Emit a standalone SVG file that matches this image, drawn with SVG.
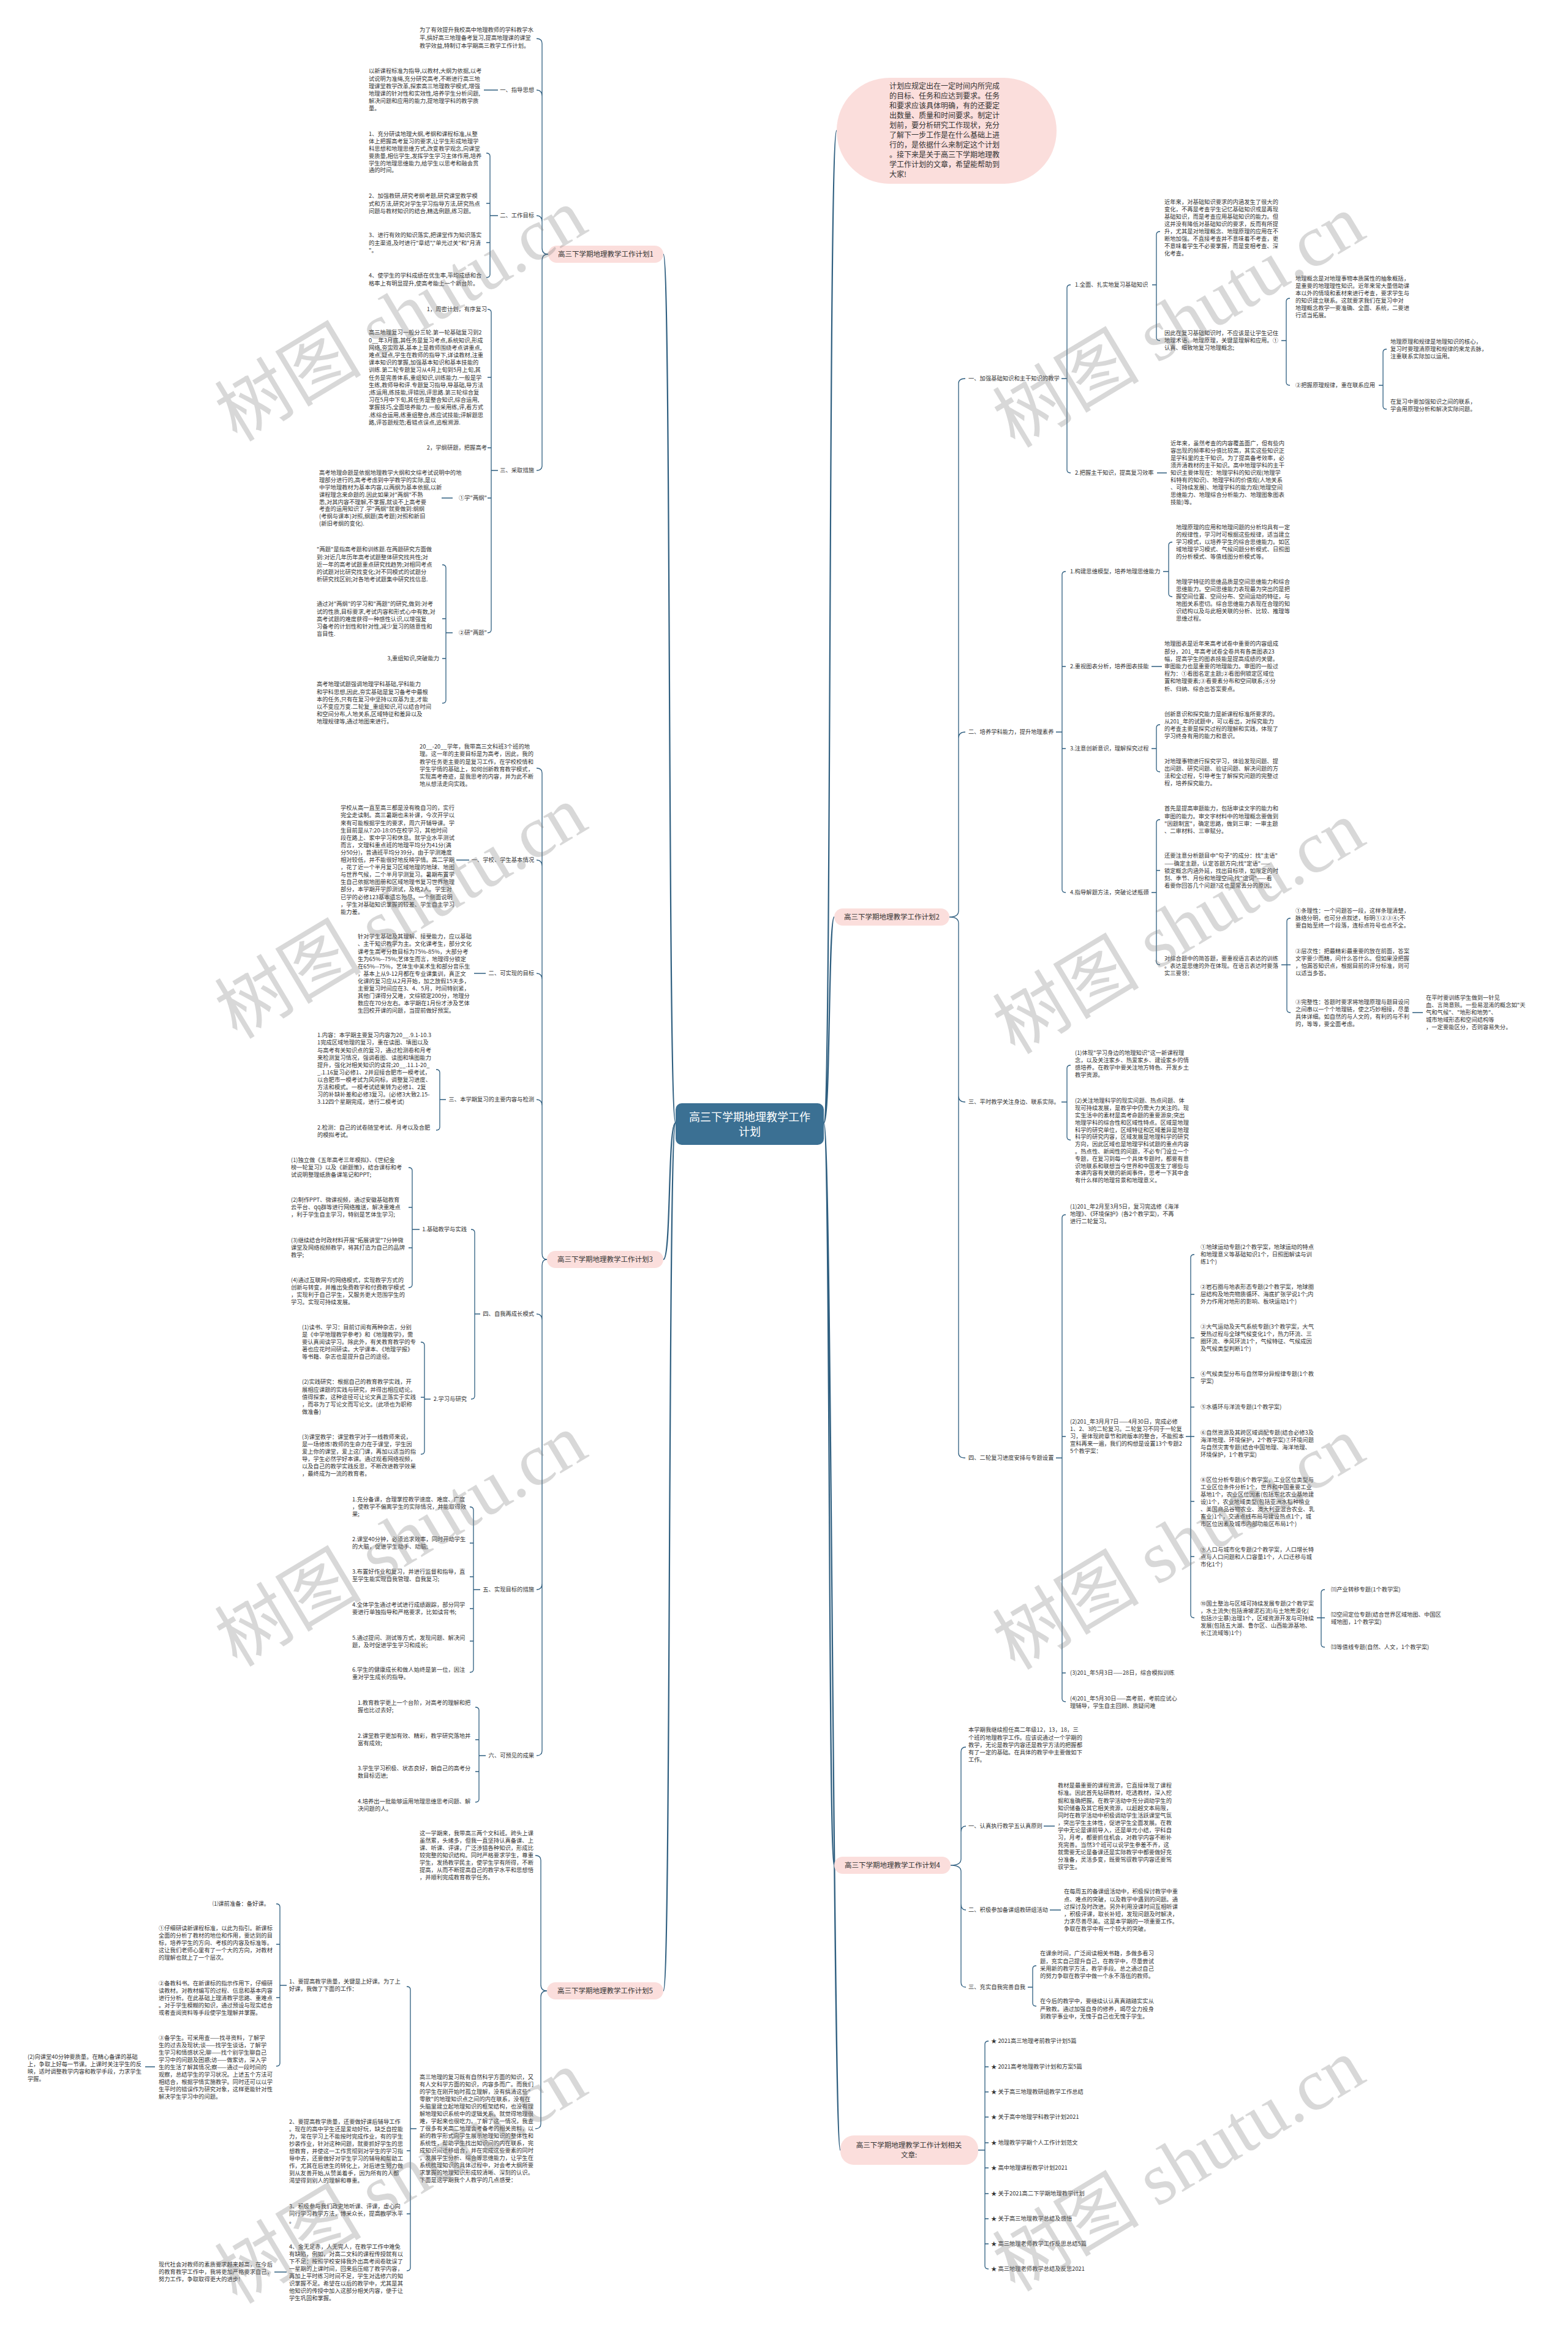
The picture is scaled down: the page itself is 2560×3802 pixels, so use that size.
<svg xmlns="http://www.w3.org/2000/svg" width="2560" height="3802" viewBox="0 0 2560 3802">
<style>
.t{font-family:"Noto Sans CJK SC","Noto Sans",sans-serif;font-size:9.3px;fill:#333}
.e{text-anchor:end}
.c{fill:none;stroke:#2f5f80;stroke-width:1.3}
.m{fill:none;stroke:#2f5f80;stroke-width:2.2}
.pill{fill:#fbdedc}
.pt{font-family:"Noto Sans CJK SC",sans-serif;font-size:11.5px;fill:#333;text-anchor:middle}
.wm{font-size:120px;fill:#808080;opacity:0.3;text-anchor:middle}
</style>
<rect width="2560" height="3802" fill="#fff"/>
<g id="connectors">
<path class="m" d="M1103 1833C1090 1833 1096 415 1083 415M1103 1833C1090 1833 1096 2056 1083 2056M1103 1833C1090 1833 1096 3250 1083 3250M1345 1833C1358 1833 1352 213 1366 213M1345 1833C1356 1833 1352 1497 1362 1497M1345 1833C1356 1833 1352 3045 1362 3045M1345 1833C1358 1833 1360 3510 1372 3510"/>
<path class="c" d="M895 415Q885 415 885 405V71Q885 63 876 63M885 157Q885 147 876 147M885 362Q885 352 876 352M895 415Q885 415 885 425V760Q885 768 876 768"/>
<path class="c" d="M813 147H790M813 352H800M794 250Q800 250 800 255V448Q800 453 794 453M800 332H794M800 396H794M813 768H802M796 505Q802 505 802 510V1028Q802 1033 796 1033M802 616H796M802 731H796M802 813H796M739 813H721M739 1033H728M722 922Q728 922 728 927V1143Q728 1148 722 1148M728 1010H722M728 1075H722"/>
<path class="c" d="M893 2056Q885 2056 885 2046V1262Q885 1254 876 1254M885 1414Q885 1404 876 1404M885 1599Q885 1589 876 1589M885 1805Q885 1795 876 1795M885 2155Q885 2145 876 2145M893 2056Q885 2056 885 2066V2858Q885 2866 876 2866M885 2585Q885 2595 876 2595"/>
<path class="c" d="M766 1404H745M793 1589H774M728 1795H718M712 1746Q718 1746 718 1751V1840Q718 1845 712 1845M784 2145H775M769 2007Q775 2007 775 2012V2279Q775 2284 769 2284M685 2007H673M667 1906Q673 1906 673 1911V2097Q673 2102 667 2102M673 1971H667M673 2037H667M703 2284H693M687 2191Q693 2191 693 2196V2369Q693 2374 687 2374M693 2281H687M784 2595H773M767 2460Q773 2460 773 2465V2725Q773 2730 767 2730M773 2519H767M773 2574H767M773 2626H767M773 2679H767M793 2866H782M776 2787Q782 2787 782 2792V2937Q782 2942 776 2942M782 2840H776M782 2892H776"/>
<path class="c" d="M893 3250Q883 3250 883 3240V3037Q883 3029 874 3029M893 3250Q883 3250 883 3260V3467Q883 3475 874 3475M680 3475H670M664 3243Q670 3243 670 3248V3702Q670 3707 664 3707M670 3511H664M670 3614H664M468 3241H457M451 3108Q457 3108 457 3113V3368Q457 3373 451 3373M457 3174H451M457 3261H451M253 3374H237M468 3709H448"/>
<path class="c" d="M1550 1497Q1565 1497 1565 1487V626Q1565 618 1576 618M1565 1205Q1565 1195 1576 1195M1550 1497Q1565 1497 1565 1507V2372Q1565 2380 1576 2380M1565 1789Q1565 1799 1576 1799"/>
<path class="c" d="M1733 618H1742M1748 465Q1742 465 1742 470V767Q1742 772 1748 772M1881 465H1888M1894 378Q1888 378 1888 383V551Q1888 556 1894 556M2092 556H2100M2106 487Q2100 487 2100 492V624Q2100 629 2106 629M2251 629H2258M2264 570Q2258 570 2258 575V663Q2258 668 2264 668M1889 772H1905"/>
<path class="c" d="M1724 1195H1734M1740 933Q1734 933 1734 938V1452Q1734 1457 1740 1457M1734 1088H1740M1734 1222H1740M1899 933H1908M1914 885Q1908 885 1908 890V969Q1908 974 1914 974M1880 1088H1897M1880 1222H1888M1894 1183Q1888 1183 1888 1188V1255Q1888 1260 1894 1260M1880 1457H1888M1894 1338Q1888 1338 1888 1343V1570Q1888 1575 1894 1575M1888 1421H1894M2092 1575H2101M2107 1499Q2101 1499 2101 1504V1648Q2101 1653 2107 1653M2101 1575H2107M2306 1653H2323"/>
<path class="c" d="M1733 1799H1742M1748 1739Q1742 1739 1742 1744V1856Q1742 1861 1748 1861M1724 2380H1734M1740 1983Q1734 1983 1734 1988V2773Q1734 2778 1740 2778M1734 2345H1740M1734 2731H1740M1936 2345H1944M1950 2048Q1944 2048 1944 2053V2636Q1944 2641 1950 2641M1944 2113H1950M1944 2184H1950M1944 2249H1950M1944 2297H1950M1944 2345H1950M1944 2451H1950M1944 2541H1950M2150 2641H2157M2163 2595Q2157 2595 2157 2600V2684Q2157 2689 2163 2689M2157 2641H2163"/>
<path class="c" d="M1552 3045Q1569 3045 1569 3035V2860Q1569 2852 1577 2852M1569 2991Q1569 2981 1577 2981M1552 3045Q1569 3045 1569 3055V3236Q1569 3244 1577 3244M1569 3108Q1569 3118 1577 3118M1704 2981H1722M1714 3118H1732M1678 3244H1686M1692 3209Q1686 3209 1686 3214V3270Q1686 3275 1692 3275"/>
<path class="c" d="M1597 3510H1608M1614 3332Q1608 3332 1608 3337V3699Q1608 3704 1614 3704M1608 3374H1614M1608 3415H1614M1608 3456H1614M1608 3498H1614M1608 3539H1614M1608 3581H1614M1608 3622H1614M1608 3663H1614"/>
</g>
<g id="root"><rect x="1103" y="1801" width="242" height="68" rx="10" fill="#3b7093"/><text x="1224" y="1829.5" font-family="Noto Sans CJK SC,sans-serif" font-size="18" fill="#fff" text-anchor="middle">高三下学期地理教学工作</text><text x="1224" y="1853.5" font-family="Noto Sans CJK SC,sans-serif" font-size="18" fill="#fff" text-anchor="middle">计划</text></g>
<g id="intro"><rect x="1366" y="127" width="359" height="173" rx="86" fill="#fbdedc"/><text font-family="Noto Sans CJK SC,sans-serif" font-size="12" fill="#333" x="1452" y="145"><tspan x="1452">计划应规定出在一定时间内所完成</tspan><tspan x="1452" dy="16">的目标、任务和应达到要求。任务</tspan><tspan x="1452" dy="16">和要求应该具体明确，有的还要定</tspan><tspan x="1452" dy="16">出数量、质量和时间要求。制定计</tspan><tspan x="1452" dy="16">划前，要分析研究工作现状，充分</tspan><tspan x="1452" dy="16">了解下一步工作是在什么基础上进</tspan><tspan x="1452" dy="16">行的，是依据什么来制定这个计划</tspan><tspan x="1452" dy="16">。接下来是关于高三下学期地理教</tspan><tspan x="1452" dy="16">学工作计划的文章，希望能帮助到</tspan><tspan x="1452" dy="16">大家!</tspan></text></g>
<g id="plan1">
<rect class="pill" x="895" y="401" width="188" height="28" rx="14"/><text class="pt" x="989" y="419">高三下学期地理教学工作计划1</text>
<text class="t" x="685" y="52.3"><tspan x="685">为了有效提升我校高中地理教师的学科教学水</tspan><tspan x="685" dy="12.8">平,搞好高三地理备考复习,提高地理课的课堂</tspan><tspan x="685" dy="12.8">教学效益,特制订本学期高三教学工作计划。</tspan></text>
<text class="t e" x="872" y="150.3">一、指导思想</text>
<text class="t" x="602" y="119.3"><tspan x="602">以新课程标准为指导,以教材,大纲为依据,以考</tspan><tspan x="602" dy="12.2">试说明为准绳,充分研究高考,不断进行高三地</tspan><tspan x="602" dy="12.2">理课堂教学改革,探索高三地理教学模式,增强</tspan><tspan x="602" dy="12.2">地理课的针对性和实效性,培养学生分析问题,</tspan><tspan x="602" dy="12.2">解决问题和应用的能力,提地理学科的教学质</tspan><tspan x="602" dy="12.2">量。</tspan></text>
<text class="t e" x="872" y="355.3">二、工作目标</text>
<text class="t" x="602" y="222.3"><tspan x="602">1、充分研读地理大纲,考纲和课程标准,从整</tspan><tspan x="602" dy="11.8">体上把握高考复习的要求,让学生形成地理学</tspan><tspan x="602" dy="11.8">科思想和地理思维方式,改变教学观念,向课堂</tspan><tspan x="602" dy="11.8">要质量,相信学生,发挥学生学习主体作用,培养</tspan><tspan x="602" dy="11.8">学生的地理思维能力,给学生以思考和融会贯</tspan><tspan x="602" dy="11.8">通的时间。</tspan></text>
<text class="t" x="602" y="323.3"><tspan x="602">2、加强教研,研究考纲考题,研究课堂教学模</tspan><tspan x="602" dy="12.2">式和方法,研究对学生学习指导方法,研究热点</tspan><tspan x="602" dy="12.2">问题与教材知识的结合,精选例题,练习题。</tspan></text>
<text class="t" x="602" y="387.3"><tspan x="602">3、进行有效的知识落实,把课堂作为知识落实</tspan><tspan x="602" dy="12.2">的主渠道,及时进行"章结","单元过关"和"月清</tspan><tspan x="602" dy="12.2">"。</tspan></text>
<text class="t" x="602" y="453.3"><tspan x="602">4、使学生的学科成绩在优生率,平均成绩和合</tspan><tspan x="602" dy="12.2">格率上有明显提升,使高考能上一个新台阶。</tspan></text>
<text class="t e" x="872" y="771.3">三、采取措施</text>
<text class="t e" x="795" y="508.3">1，周密计划，有序复习</text>
<text class="t" x="602" y="546.3"><tspan x="602">高三地理复习一般分三轮.第一轮基础复习到2</tspan><tspan x="602" dy="12.2">0__年3月底,其任务是复习考点,系统知识,形成</tspan><tspan x="602" dy="12.2">网络,夯实双基,基本上是教师围绕考点讲重点,</tspan><tspan x="602" dy="12.2">难点,疑点,学生在教师的指导下,详读教材,注重</tspan><tspan x="602" dy="12.2">课本知识的掌握,加强基本知识和基本技能的</tspan><tspan x="602" dy="12.2">训练.第二轮专题复习从4月上旬到5月上旬,其</tspan><tspan x="602" dy="12.2">任务是完善体系,重组知识,训练能力.一般是学</tspan><tspan x="602" dy="12.2">生练,教师导和评.专题复习指导,导基础,导方法</tspan><tspan x="602" dy="12.2">;练运用,练技能,评错因,评思路.第三轮综合复</tspan><tspan x="602" dy="12.2">习在5月中下旬,其任务是整合知识,综合运用,</tspan><tspan x="602" dy="12.2">掌握技巧,全面培养能力.一般采用练,评,看方式</tspan><tspan x="602" dy="12.2">.练综合运用,练重组整合,练应试技能;评解题思</tspan><tspan x="602" dy="12.2">路,评答题规范;看错点误点,追根溯源.</tspan></text>
<text class="t e" x="795" y="734.3">2，学纲研题，把握高考</text>
<text class="t e" x="795" y="816.3">①学"两纲"</text>
<text class="t" x="521" y="775.3"><tspan x="521">高考地理命题是依据地理教学大纲和文综考试说明中的地</tspan><tspan x="521" dy="11.8">理部分进行的,高考考虑到中学教学的实际,是以</tspan><tspan x="521" dy="11.8">中学地理教材为基本内容,以两纲为基本依据,以新</tspan><tspan x="521" dy="11.8">课程理念来命题的.因此如果对"两纲"不熟</tspan><tspan x="521" dy="11.8">悉,对其内容不理解,不掌握,就谈不上高考要</tspan><tspan x="521" dy="11.8">考查的运用知识了.学"两纲"就要做到:纲纲</tspan><tspan x="521" dy="11.8">(考纲与课本)对照,纲题(高考题)对照和新旧</tspan><tspan x="521" dy="11.8">(新旧考纲的变化).</tspan></text>
<text class="t e" x="795" y="1036.3">②研"两题"</text>
<text class="t" x="517" y="900.3"><tspan x="517">"两题"是指高考题和训练题.在两题研究方面做</tspan><tspan x="517" dy="12.2">到:对近几年历年高考试题整体研究找共性;对</tspan><tspan x="517" dy="12.2">近一年的高考试题重点研究找趋势;对相同考点</tspan><tspan x="517" dy="12.2">的试题对比研究找变化;对不同模式的试题分</tspan><tspan x="517" dy="12.2">析研究找区别;对各地考试题集中研究找信息.</tspan></text>
<text class="t" x="517" y="989.3"><tspan x="517">通过对"两纲"的学习和"两题"的研究,做到:对考</tspan><tspan x="517" dy="12.2">试的性质,目标要求,考试内容和形式心中有数,对</tspan><tspan x="517" dy="12.2">高考试题的难度获得一种感性认识,以增强复</tspan><tspan x="517" dy="12.2">习备考的计划性和针对性,减少复习的随意性和</tspan><tspan x="517" dy="12.2">盲目性.</tspan></text>
<text class="t e" x="717" y="1078.3">3,重组知识,突破能力</text>
<text class="t" x="517" y="1120.3"><tspan x="517">高考地理试题强调地理学科基础,学科能力</tspan><tspan x="517" dy="12.2">和学科思想,因此,夯实基础是复习备考中最根</tspan><tspan x="517" dy="12.2">本的任务,只有在复习中坚持以双基为主,才能</tspan><tspan x="517" dy="12.2">以不变应万变.二轮复_重组知识,可以结合时间</tspan><tspan x="517" dy="12.2">和空间分布,人地关系,区域特征和差异以及</tspan><tspan x="517" dy="12.2">地理规律等,通过地图来进行。</tspan></text>
</g>
<g id="plan3">
<rect class="pill" x="893" y="2042" width="190" height="28" rx="14"/><text class="pt" x="988" y="2060">高三下学期地理教学工作计划3</text>
<text class="t" x="685" y="1222.3"><tspan x="685">20__-20__学年，我带高三文科班3个班的地</tspan><tspan x="685" dy="12.1">理。这一年的主要目标是为高考，因此，我的</tspan><tspan x="685" dy="12.1">教学任务更主要的是复习工作，在学校校情和</tspan><tspan x="685" dy="12.1">学生学情的基础上，如何创新教育教学模式，</tspan><tspan x="685" dy="12.1">实现高考奇迹，是我思考的内容，并为此不断</tspan><tspan x="685" dy="12.1">地从想法走向实践。</tspan></text>
<text class="t e" x="872" y="1407.3">一、学校、学生基本情况</text>
<text class="t" x="556" y="1322.3"><tspan x="556">学校从高一直至高三都是没有晚自习的，实行</tspan><tspan x="556" dy="12.1">完全走读制。高三暑期也未补课，今次开学以</tspan><tspan x="556" dy="12.1">来有可能根据学生的要求，周六开辅导课。学</tspan><tspan x="556" dy="12.1">生目前是从7:20-18:05在校学习，其他时间</tspan><tspan x="556" dy="12.1">段在路上、家中学习和休息。就学业水平测试</tspan><tspan x="556" dy="12.1">而言，文理科重点班的地理平均分为41分(满</tspan><tspan x="556" dy="12.1">分50分)，普通班平均分39分。由于学测难度</tspan><tspan x="556" dy="12.1">相对较低，并不能很好地反映学情。高二学期</tspan><tspan x="556" dy="12.1">，花了近一个半月复习区域地理的地球、地图</tspan><tspan x="556" dy="12.1">与世界气候，二个半月学测复习。暑期布置学</tspan><tspan x="556" dy="12.1">生自己依据地图册和区域地理书复习世界地理</tspan><tspan x="556" dy="12.1">部分，本学期开学即测试，及格2人。学生对</tspan><tspan x="556" dy="12.1">已学的必修123基本遗忘殆尽，一个侧面说明</tspan><tspan x="556" dy="12.1">，学生对基础知识掌握的较差、学生自主学习</tspan><tspan x="556" dy="12.1">能力差。</tspan></text>
<text class="t e" x="872" y="1592.3">二、可实现的目标</text>
<text class="t" x="584" y="1532.3"><tspan x="584">针对学生基础及其理解、接受能力，应以基础</tspan><tspan x="584" dy="12.1">、主干知识教学为主。文化课考生，部分文化</tspan><tspan x="584" dy="12.1">课考生高考分数目标为75%-85%，大部分考</tspan><tspan x="584" dy="12.1">生为65%--75%;艺体生而言，地理得分锁定</tspan><tspan x="584" dy="12.1">在65%--75%，艺体生中美术生和部分音乐生</tspan><tspan x="584" dy="12.1">，基本上从9-12月都在专业课集训，真正文</tspan><tspan x="584" dy="12.1">化课的复习应从2月开始，加之放假15天多，</tspan><tspan x="584" dy="12.1">主要复习时间应在3、4、5月，时间特别紧，</tspan><tspan x="584" dy="12.1">其他门课得分又难，文综锁定200分，地理分</tspan><tspan x="584" dy="12.1">数应在70分左右。本学期在1月份才涉及艺体</tspan><tspan x="584" dy="12.1">生回校开课的问题，当提前做好预案。</tspan></text>
<text class="t e" x="872" y="1798.3">三、本学期复习的主要内容与检测</text>
<text class="t" x="518" y="1693.3"><tspan x="518">1.内容：本学期主要复习内容为20__.9.1-10.3</tspan><tspan x="518" dy="12.1">1完成区域地理的复习，重在读图、填图以及</tspan><tspan x="518" dy="12.1">与高考有关知识点的复习，通过检测卷和月考</tspan><tspan x="518" dy="12.1">来检测复习情况，强调看图、读图和填图能力</tspan><tspan x="518" dy="12.1">提升，强化对相关知识的读背;20__.11.1-20_</tspan><tspan x="518" dy="12.1">_.1.16复习必修1、2并迎接合肥市一模考试，</tspan><tspan x="518" dy="12.1">以合肥市一模考试为风向标，调整复习进度、</tspan><tspan x="518" dy="12.1">方法和模式。一模考试结束转为必修1、2复</tspan><tspan x="518" dy="12.1">习的补缺补差和必修3复习。(必修3大致2.15-</tspan><tspan x="518" dy="12.1">3.12四个星期完成，进行二模考试)</tspan></text>
<text class="t" x="518" y="1844.3"><tspan x="518">2.检测：自己的试卷随堂考试、月考以及合肥</tspan><tspan x="518" dy="12.1">的模拟考试。</tspan></text>
<text class="t e" x="872" y="2148.3">四、自我再成长模式</text>
<text class="t e" x="762" y="2010.3">1.基础教学与实践</text>
<text class="t" x="475" y="1897.3"><tspan x="475">(1)独立做《五年高考三年模拟》、《世纪金</tspan><tspan x="475" dy="12">榜一轮复习》以及《新题策》，结合课标和考</tspan><tspan x="475" dy="12">试说明整理纸质备课笔记和PPT;</tspan></text>
<text class="t" x="475" y="1962.3"><tspan x="475">(2)制作PPT、微课视频，通过安徽基础教育</tspan><tspan x="475" dy="12">云平台、qq群等进行网络推送，解决重难点</tspan><tspan x="475" dy="12">，利于学生自主学习，特别是艺体生学习;</tspan></text>
<text class="t" x="475" y="2028.3"><tspan x="475">(3)继续结合时政材料开展"拓展讲堂"7分钟微</tspan><tspan x="475" dy="12">课堂及网络视频教学，将其打造为自己的品牌</tspan><tspan x="475" dy="12">教学;</tspan></text>
<text class="t" x="475" y="2093.3"><tspan x="475">(4)通过互联网+的网络模式，实现教学方式的</tspan><tspan x="475" dy="12">创新与转变，并推出免费教学和付费教学模式</tspan><tspan x="475" dy="12">，实现利于自己学生，又服务更大范围学生的</tspan><tspan x="475" dy="12">学习。实现可持续发展。</tspan></text>
<text class="t e" x="762" y="2287.3">2.学习与研究</text>
<text class="t" x="493" y="2170.3"><tspan x="493">(1)读书、学习：目前订阅有两种杂志，分别</tspan><tspan x="493" dy="12">是《中学地理教学参考》和《地理教学》，需</tspan><tspan x="493" dy="12">要认真阅读学习。除此外，有关教育教学的专</tspan><tspan x="493" dy="12">著也应花时间研读。大学课本、《地理学报》</tspan><tspan x="493" dy="12">等书籍、杂志也是提升自己的途径。</tspan></text>
<text class="t" x="493" y="2259.3"><tspan x="493">(2)实践研究：根据自己的教育教学实践，开</tspan><tspan x="493" dy="12.2">展相应课题的实践与研究，并得出相应结论。</tspan><tspan x="493" dy="12.2">值得探索，这种途径可让论文真正落实于实践</tspan><tspan x="493" dy="12.2">，而非为了写论文而写论文。(此项也为职称</tspan><tspan x="493" dy="12.2">做准备)</tspan></text>
<text class="t" x="493" y="2349.3"><tspan x="493">(3)课堂教学：课堂教学对于一线教师来说，</tspan><tspan x="493" dy="12">是一场修炼!教师的生命力在于课堂，学生因</tspan><tspan x="493" dy="12">爱上你的课堂，爱上这门课，再加以适当的指</tspan><tspan x="493" dy="12">导，学生必然学好本课。通过观看网络视频，</tspan><tspan x="493" dy="12">以及自己的教学实践反思，不断改进教学效果</tspan><tspan x="493" dy="12">，最终成为一流的教育者。</tspan></text>
<text class="t e" x="872" y="2598.3">五、实现目标的措施</text>
<text class="t" x="575" y="2451.3"><tspan x="575">1.充分备课，合理掌控教学速度、难度、广度</tspan><tspan x="575" dy="12">，使教学不偏离学生的实际情况，并能取得效</tspan><tspan x="575" dy="12">果;</tspan></text>
<text class="t" x="575" y="2516.3"><tspan x="575">2.课堂40分钟，必须追求效率，同时开动学生</tspan><tspan x="575" dy="12">的大脑，促进学生动手、动脑;</tspan></text>
<text class="t" x="575" y="2569.3"><tspan x="575">3.布置好作业和复习，并进行监督和指导，直</tspan><tspan x="575" dy="12">至学生能实现自我管理、自我复习;</tspan></text>
<text class="t" x="575" y="2623.3"><tspan x="575">4.全体学生通过考试进行成绩跟踪，部分同学</tspan><tspan x="575" dy="12">要进行单独指导和严格要求，比如读背书;</tspan></text>
<text class="t" x="575" y="2677.3"><tspan x="575">5.通过提问、测试等方式，发现问题、解决问</tspan><tspan x="575" dy="12">题，及时促进学生学习和成长;</tspan></text>
<text class="t" x="575" y="2729.3"><tspan x="575">6.学生的健康成长和做人始终是第一位，因注</tspan><tspan x="575" dy="12">重对学生成长的指导。</tspan></text>
<text class="t e" x="872" y="2869.3">六、可预见的成果</text>
<text class="t" x="584" y="2783.3"><tspan x="584">1.教育教学更上一个台阶，对高考的理解和把</tspan><tspan x="584" dy="12">握也比过去好;</tspan></text>
<text class="t" x="584" y="2837.3"><tspan x="584">2.课堂教学更加有效、精彩，教学研究落地并</tspan><tspan x="584" dy="12">富有成效;</tspan></text>
<text class="t" x="584" y="2890.3"><tspan x="584">3.学生学习积极、状态良好，朝自己的高考分</tspan><tspan x="584" dy="12">数目标迈进;</tspan></text>
<text class="t" x="584" y="2944.3"><tspan x="584">4.培养出一批能够运用地理思维思考问题、解</tspan><tspan x="584" dy="12">决问题的人。</tspan></text>
</g>
<g id="plan5">
<rect class="pill" x="893" y="3236" width="190" height="28" rx="14"/><text class="pt" x="988" y="3254">高三下学期地理教学工作计划5</text>
<text class="t" x="685" y="2996.3"><tspan x="685">这一学期来，我带高三两个文科班。跨头上课</tspan><tspan x="685" dy="12">虽然累，头绪多，但我一直坚持认真备课、上</tspan><tspan x="685" dy="12">课、听课、评课，广泛涉猎各种知识，形成比</tspan><tspan x="685" dy="12">较完整的知识结构。同时严格要求学生，尊重</tspan><tspan x="685" dy="12">学生，发扬教学民主，使学生学有所得，不断</tspan><tspan x="685" dy="12">提高，从而不断提高自己的教学水平和思想悟</tspan><tspan x="685" dy="12">，并顺利完成教育教学任务。</tspan></text>
<text class="t" x="685" y="3394.3"><tspan x="685">高三地理的复习既有自然科学方面的知识，又</tspan><tspan x="685" dy="12">有人文科学方面的知识，内容多而广。而我们</tspan><tspan x="685" dy="12">的学生在刚开始时孤立理解，没有搞清这些"</tspan><tspan x="685" dy="12">零散"的地理知识点之间的内在联系，没有在</tspan><tspan x="685" dy="12">头脑里建立起地理知识的框架结构，也没有理</tspan><tspan x="685" dy="12">解地理知识系统中的逻辑关系。就觉得地理很</tspan><tspan x="685" dy="12">难，学起来也很吃力。了解了这一情况，我查</tspan><tspan x="685" dy="12">了很多有关高二地理会考备考的相关资料，以</tspan><tspan x="685" dy="12">新的教学形式向学生展示地理知识的整体性和</tspan><tspan x="685" dy="12">系统性，帮助学生找出知识间的内在联系，完</tspan><tspan x="685" dy="12">成知识间迁移组合，并在完成这些要素的同时</tspan><tspan x="685" dy="12">，发展学生分析、综合等思维能力，让学生在</tspan><tspan x="685" dy="12">系统梳理知识的具体过程中，对会考大纲所要</tspan><tspan x="685" dy="12">求掌握的地理知识形成较清晰、深刻的认识。</tspan><tspan x="685" dy="12">下面是这学期我个人教学的几点感受：</tspan></text>
<text class="t" x="472" y="3238.3"><tspan x="472">1、要提高教学质量，关键是上好课。为了上</tspan><tspan x="472" dy="12">好课，我做了下面的工作：</tspan></text>
<text class="t e" x="440" y="3111.3">⑴课前准备：备好课。</text>
<text class="t" x="259" y="3151.3"><tspan x="259">①仔细研读新课程标准，以此为指引。新课标</tspan><tspan x="259" dy="12">全面的分析了教材的地位和作用，要达到的目</tspan><tspan x="259" dy="12">标，培养学生的方向、考核的内容及标准等。</tspan><tspan x="259" dy="12">这让我们老师心里有了一个大的方向，对教材</tspan><tspan x="259" dy="12">的理解也就上了一个层次。</tspan></text>
<text class="t" x="259" y="3241.3"><tspan x="259">②备教科书。在新课标的指示作用下，仔细研</tspan><tspan x="259" dy="12">读教材。对教材编写的过程、信息和基本内容</tspan><tspan x="259" dy="12">进行分析。在此基础上理清教学思路、重难点</tspan><tspan x="259" dy="12">。对于学生模糊的知识，通过预设与现实结合</tspan><tspan x="259" dy="12">或者查阅资料等手段使学生理解并掌握。</tspan></text>
<text class="t" x="259" y="3330.3"><tspan x="259">③备学生。可采用查——找寻资料，了解学</tspan><tspan x="259" dy="12">生的过去及现状;谈——找学生谈话，了解学</tspan><tspan x="259" dy="12">生学习和情感状况;聊——找个别学生聊自己</tspan><tspan x="259" dy="12">学习中的问题及困惑;访——做家访，深入学</tspan><tspan x="259" dy="12">生的生活了解其情况;察——通过一段时间的</tspan><tspan x="259" dy="12">观察，总结学生的学习状况。上述五个方法可</tspan><tspan x="259" dy="12">相结合，根据学情实施教学。同时还可以以学</tspan><tspan x="259" dy="12">生平时的错误作为研究对象，这样更能针对性</tspan><tspan x="259" dy="12">解决学生学习中的问题。</tspan></text>
<text class="t" x="45" y="3361.3"><tspan x="45">(2)向课堂40分钟要质量。在精心备课的基础</tspan><tspan x="45" dy="12">上，争取上好每一节课。上课时关注学生的反</tspan><tspan x="45" dy="12">映，适时调整教学内容和教学手段，力求学生</tspan><tspan x="45" dy="12">学握。</tspan></text>
<text class="t" x="472" y="3467.3"><tspan x="472">2、要提高教学质量，还要做好课后辅导工作</tspan><tspan x="472" dy="12">。现在的高中学生还是爱动好玩，缺乏自控能</tspan><tspan x="472" dy="12">力，常在学习上不能按时完成作业，有的学生</tspan><tspan x="472" dy="12">抄袭作业，针对这种问题，就要抓好学生的思</tspan><tspan x="472" dy="12">想教育，并使这一工作贯彻到对学生的学习指</tspan><tspan x="472" dy="12">导中去，还要做好对学生学习的辅导和帮助工</tspan><tspan x="472" dy="12">作，尤其在后进生的转化上，对后进生努力做</tspan><tspan x="472" dy="12">到从友善开始,从赞美着手，因为所有的人都</tspan><tspan x="472" dy="12">渴望得到别人的理解和尊重。</tspan></text>
<text class="t" x="472" y="3605.3"><tspan x="472">3、积极参与我们政史地听课、评课，虚心向</tspan><tspan x="472" dy="12">同行学习教学方法，博采众长，提高教学水平</tspan><tspan x="472" dy="12">。</tspan></text>
<text class="t" x="472" y="3671.3"><tspan x="472">4、金无足赤，人无完人，在教学工作中难免</tspan><tspan x="472" dy="12">有缺陷，例如，对高二文科的课程传授就有以</tspan><tspan x="472" dy="12">下不足：按照学校安排我外出高考阅卷耽误了</tspan><tspan x="472" dy="12">一星期的上课时间，回来后压缩了教学内容，</tspan><tspan x="472" dy="12">再加上平时练习时间不足，学生对选修六的知</tspan><tspan x="472" dy="12">识掌握不足。希望在以后的教学中，尤其是其</tspan><tspan x="472" dy="12">他知识的传授中加入这部分相关内容，便于让</tspan><tspan x="472" dy="12">学生巩固和掌握。</tspan></text>
<text class="t" x="259" y="3700.3"><tspan x="259">现代社会对教师的素质要求越来越高，在今后</tspan><tspan x="259" dy="12">的教育教学工作中，我将更加严格要求自己，</tspan><tspan x="259" dy="12">努力工作，争取取得更大的进步!</tspan></text>
</g>
<g id="plan2">
<rect class="pill" x="1362" y="1483" width="188" height="28" rx="14"/><text class="pt" x="1456" y="1501">高三下学期地理教学工作计划2</text>
<text class="t" x="1581" y="621.3">一、加强基础知识和主干知识的教学</text>
<text class="t" x="1755" y="468.3">1.全面、扎实地复习基础知识</text>
<text class="t" x="1901" y="333.3"><tspan x="1901">近年来，对基础知识要求的内涵发生了很大的</tspan><tspan x="1901" dy="12">变化，不再是考查学生记忆基础知识或是再现</tspan><tspan x="1901" dy="12">基础知识，而是考查应用基础知识的能力。但</tspan><tspan x="1901" dy="12">这并没有降低对基础知识的要求，反而有所提</tspan><tspan x="1901" dy="12">升，尤其是对地理概念、地理原理的应用在不</tspan><tspan x="1901" dy="12">断地加强。不直接考查并不意味着不考查，更</tspan><tspan x="1901" dy="12">不意味着学生不必要掌握，而是变相考查、深</tspan><tspan x="1901" dy="12">化考查。</tspan></text>
<text class="t" x="1901" y="547.3"><tspan x="1901">因此在复习基础知识时，不应该是让学生记住</tspan><tspan x="1901" dy="12">地理术语、地理原理，关键是理解和应用。①</tspan><tspan x="1901" dy="12">认真、细致地复习地理概念;</tspan></text>
<text class="t" x="2115" y="458.3"><tspan x="2115">地理概念是对地理事物本质属性的抽象概括，</tspan><tspan x="2115" dy="12">是重要的地理理性知识。近年来常大量借助课</tspan><tspan x="2115" dy="12">本以外的情境和素材来进行考查，要求学生与</tspan><tspan x="2115" dy="12">的知识建立联系。这就要求我们在复习中对</tspan><tspan x="2115" dy="12">地理概念教学一要准确、全面、系统，二要进</tspan><tspan x="2115" dy="12">行适当拓展。</tspan></text>
<text class="t" x="2115" y="632.3">②把握原理规律，重在联系应用</text>
<text class="t" x="2270" y="561.3"><tspan x="2270">地理原理和规律是地理知识的核心，</tspan><tspan x="2270" dy="12">复习时要理清原理和规律的来龙去脉，</tspan><tspan x="2270" dy="12">注重联系实际加以运用。</tspan></text>
<text class="t" x="2270" y="659.3"><tspan x="2270">在复习中要加强知识之间的联系，</tspan><tspan x="2270" dy="12">学会用原理分析和解决实际问题。</tspan></text>
<text class="t" x="1755" y="775.3">2.把握主干知识，提高复习效率</text>
<text class="t" x="1911" y="727.3"><tspan x="1911">近年来，虽然考查的内容覆盖面广，但有些内</tspan><tspan x="1911" dy="12">容出现的频率和分值比较高，其实这些知识正</tspan><tspan x="1911" dy="12">是学科里的主干知识。为了提高备考效率，必</tspan><tspan x="1911" dy="12">须弄清教材的主干知识。高中地理学科的主干</tspan><tspan x="1911" dy="12">知识主要体现在：地理学科的知识观(地理学</tspan><tspan x="1911" dy="12">科特有的知识)、地理学科的价值观(人地关系</tspan><tspan x="1911" dy="12">、可持续发展)、地理学科的能力观(地理空间</tspan><tspan x="1911" dy="12">思维能力、地理综合分析能力、地理图象图表</tspan><tspan x="1911" dy="12">技能)等。</tspan></text>
<text class="t" x="1581" y="1198.3">二、培养学科能力，提升地理素养</text>
<text class="t" x="1747" y="936.3">1.构建思维模型，培养地理思维能力</text>
<text class="t" x="1920" y="864.3"><tspan x="1920">地理原理的应用和地理问题的分析均具有一定</tspan><tspan x="1920" dy="12">的规律性，学习时可根据这些规律，适当建立</tspan><tspan x="1920" dy="12">学习模式，以培养学生的综合思维能力。如区</tspan><tspan x="1920" dy="12">域地理学习模式、气候问题分析模式、日照图</tspan><tspan x="1920" dy="12">的分析模式、等值线图分析模式等。</tspan></text>
<text class="t" x="1920" y="953.3"><tspan x="1920">地理学特征的思维品质是空间思维能力和综合</tspan><tspan x="1920" dy="12">思维能力。空间思维能力表现最为突出的是把</tspan><tspan x="1920" dy="12">握空间位置、空间分布、空间运动的特征，与</tspan><tspan x="1920" dy="12">地图关系密切。综合思维能力表现在合理的知</tspan><tspan x="1920" dy="12">识结构以及与此相关联的分析、比较、推理等</tspan><tspan x="1920" dy="12">思维过程。</tspan></text>
<text class="t" x="1747" y="1091.3">2.重视图表分析，培养图表技能</text>
<text class="t" x="1901" y="1054.3"><tspan x="1901">地理图表是近年来高考试卷中重要的内容组成</tspan><tspan x="1901" dy="12.2">部分，201_年高考试卷全卷共有各类图表23</tspan><tspan x="1901" dy="12.2">幅，提高学生的图表技能是提高成绩的关键。</tspan><tspan x="1901" dy="12.2">审图能力也是重要的地理能力。审图的一般过</tspan><tspan x="1901" dy="12.2">程为：①看图名定主题;②看图例锁定区域位</tspan><tspan x="1901" dy="12.2">置和地理要素;③看要素分布和空间联系;④分</tspan><tspan x="1901" dy="12.2">析、归纳、综合出答案要点。</tspan></text>
<text class="t" x="1747" y="1225.3">3.注意创新意识，理解探究过程</text>
<text class="t" x="1901" y="1169.3"><tspan x="1901">创新意识和探究能力是新课程标准所要求的。</tspan><tspan x="1901" dy="12">从201_年的试题中，可以看出，对探究能力</tspan><tspan x="1901" dy="12">的考查主要是探究过程的理解和实践，体现了</tspan><tspan x="1901" dy="12">学习终身有用的能力和意识。</tspan></text>
<text class="t" x="1901" y="1246.3"><tspan x="1901">对地理事物进行探究学习，体验发现问题、提</tspan><tspan x="1901" dy="12">出问题、研究问题、验证问题、解决问题的方</tspan><tspan x="1901" dy="12">法和全过程，引导考生了解探究问题的完整过</tspan><tspan x="1901" dy="12">程，培养探究能力。</tspan></text>
<text class="t" x="1747" y="1460.3">4.指导解题方法，突破论述瓶颈</text>
<text class="t" x="1901" y="1323.3"><tspan x="1901">首先是提高审题能力，包括审读文字的能力和</tspan><tspan x="1901" dy="12.2">审图的能力。审文字材料中的地理概念要做到</tspan><tspan x="1901" dy="12.2">"因题制宜"，确定思路，做到三审：一审主题</tspan><tspan x="1901" dy="12.2">、二审材料、三审赋分。</tspan></text>
<text class="t" x="1901" y="1400.3"><tspan x="1901">还要注意分析题目中"句子"的成分：找"主语"</tspan><tspan x="1901" dy="12.2">——确定主题，认定答题方向;找"定语"——</tspan><tspan x="1901" dy="12.2">锁定概念内涵外延，找出目标项，如限定的时</tspan><tspan x="1901" dy="12.2">刻、季节、月份和地理空间;找"谊词"——看</tspan><tspan x="1901" dy="12.2">看要你回答几个问题?这也是常丢分的原因。</tspan></text>
<text class="t" x="1901" y="1568.3"><tspan x="1901">对综合题中的简答题，要重视语言表达的训练</tspan><tspan x="1901" dy="11.8">。表达是思维的外在体现。在语言表达时要落</tspan><tspan x="1901" dy="11.8">实三要领：</tspan></text>
<text class="t" x="2115" y="1490.3"><tspan x="2115">①条理性：一个问题答一段，这样条理清楚，</tspan><tspan x="2115" dy="12">脉络分明，也可分点叙述，标明①②③④;不</tspan><tspan x="2115" dy="12">要自始至终一个段落，连标点符号也点不全。</tspan></text>
<text class="t" x="2115" y="1556.3"><tspan x="2115">②层次性：把最精彩最重要的放在前面，答案</tspan><tspan x="2115" dy="11.8">文字要少而精，问什么答什么。但如果没把握</tspan><tspan x="2115" dy="11.8">，怕漏答知识点，根据目前的评分标准，则可</tspan><tspan x="2115" dy="11.8">以适当多答。</tspan></text>
<text class="t" x="2115" y="1639.3"><tspan x="2115">③完整性：答题时要求将地理原理与题目设问</tspan><tspan x="2115" dy="12">之间串以一个个地理链，使之巧妙相接，尽量</tspan><tspan x="2115" dy="12">具体详细。如自然的与人文的，有利的与不利</tspan><tspan x="2115" dy="12">的，等等，要全面考虑。</tspan></text>
<text class="t" x="2328" y="1632.3"><tspan x="2328">在平时要训练学生做到一针见</tspan><tspan x="2328" dy="12">血、言简意赅。一些易混淆的概念如"天</tspan><tspan x="2328" dy="12">气和气候"、"地形和地势"、</tspan><tspan x="2328" dy="12">城市地域形态和空间结构等</tspan><tspan x="2328" dy="12">，一定要能区分，否则容易失分。</tspan></text>
<text class="t" x="1581" y="1802.3">三、平时教学关注身边、联系实际。</text>
<text class="t" x="1755" y="1722.3"><tspan x="1755">(1)体现"学习身边的地理知识"这一新课程理</tspan><tspan x="1755" dy="12">念，以及关注家乡、热爱家乡、建设家乡的情</tspan><tspan x="1755" dy="12">感培养。在教学中要关注地方特色、开发乡土</tspan><tspan x="1755" dy="12">教学资源。</tspan></text>
<text class="t" x="1755" y="1800.3"><tspan x="1755">(2)关注地理科学的现实问题、热点问题、体</tspan><tspan x="1755" dy="11.8">现可持续发展，是教学中仍需大力关注的。现</tspan><tspan x="1755" dy="11.8">实生活中的素材是高考命题的重要源泉;突出</tspan><tspan x="1755" dy="11.8">地理学科的综合性和区域性特点。区域是地理</tspan><tspan x="1755" dy="11.8">科学的研究单位，区域特征和区域差异是地理</tspan><tspan x="1755" dy="11.8">科学的研究内容，区域发展是地理科学的研究</tspan><tspan x="1755" dy="11.8">方向，因此区域也是地理学科试题的重点内容</tspan><tspan x="1755" dy="11.8">。热点性、新闻性的问题，不必专门设立一个</tspan><tspan x="1755" dy="11.8">专题，在复习到每一个具体专题时，都要有意</tspan><tspan x="1755" dy="11.8">识地联系和联想当今世界和中国发生了哪些与</tspan><tspan x="1755" dy="11.8">本课内容有关联的新闻事件，思考一下其中含</tspan><tspan x="1755" dy="11.8">有什么样的地理背景和地理意义。</tspan></text>
<text class="t" x="1581" y="2383.3">四、二轮复习进度安排与专题设置</text>
<text class="t" x="1747" y="1973.3"><tspan x="1747">(1)201_年2月至3月5日，复习完选修《海洋</tspan><tspan x="1747" dy="12">地理》、《环境保护》(各2个教学案)，不再</tspan><tspan x="1747" dy="12">进行二轮复习。</tspan></text>
<text class="t" x="1747" y="2324.3"><tspan x="1747">(2)201_年3月月7日——4月30日，完成必修</tspan><tspan x="1747" dy="12">1、2、3的二轮复习。二轮复习不同于一轮复</tspan><tspan x="1747" dy="12">习，要体现跨章节和跨版本的整合，不能照本</tspan><tspan x="1747" dy="12">宣科再来一遍，我们的构想是设置13个专题2</tspan><tspan x="1747" dy="12">5个教学案：</tspan></text>
<text class="t" x="1960" y="2039.3"><tspan x="1960">①地球运动专题(2个教学案，地球运动的特点</tspan><tspan x="1960" dy="11.8">和地理意义等基础知识1个，日照图解读与训</tspan><tspan x="1960" dy="11.8">练1个)</tspan></text>
<text class="t" x="1960" y="2104.3"><tspan x="1960">②岩石圈与地表形态专题(2个教学案，地球圈</tspan><tspan x="1960" dy="11.8">层结构及地壳物质循环、海底扩张学说1个;内</tspan><tspan x="1960" dy="11.8">外力作用对地形的影响、板块运动1个)</tspan></text>
<text class="t" x="1960" y="2169.3"><tspan x="1960">③大气运动及天气系统专题(3个教学案，大气</tspan><tspan x="1960" dy="12">受热过程与全球气候变化1个，热力环流、三</tspan><tspan x="1960" dy="12">圈环流、季风环流1个，气候特征、气候成因</tspan><tspan x="1960" dy="12">及气候类型判断1个)</tspan></text>
<text class="t" x="1960" y="2246.3"><tspan x="1960">④气候类型分布与自然带分异规律专题(1个教</tspan><tspan x="1960" dy="12">学案)</tspan></text>
<text class="t" x="1960" y="2300.3">⑤水循环与洋流专题(1个教学案)</text>
<text class="t" x="1960" y="2342.3"><tspan x="1960">⑥自然资源及其跨区域调配专题(结合必修3及</tspan><tspan x="1960" dy="12">海洋地理、环境保护，2个教学案)⑦环境问题</tspan><tspan x="1960" dy="12">与自然灾害专题(结合中国地理、海洋地理、</tspan><tspan x="1960" dy="12">环境保护，1个教学案)</tspan></text>
<text class="t" x="1960" y="2419.3"><tspan x="1960">⑧区位分析专题(6个教学案，工业区位类型与</tspan><tspan x="1960" dy="11.9">工业区位条件分析1个，世界和中国重要工业</tspan><tspan x="1960" dy="11.9">基地1个，农业区位因素(包括东北农业基地建</tspan><tspan x="1960" dy="11.9">设)1个，农业地域类型(包括亚洲水稻种植业</tspan><tspan x="1960" dy="11.9">、美国商品谷物农业、澳大利亚混合农业、乳</tspan><tspan x="1960" dy="11.9">畜业)1个，交通点线布局与建设热点1个，城</tspan><tspan x="1960" dy="11.9">市区位因素及城市内部功能区布局1个)</tspan></text>
<text class="t" x="1960" y="2533.3"><tspan x="1960">⑨人口与城市化专题(2个教学案，人口增长特</tspan><tspan x="1960" dy="11.6">点与人口问题和人口容量1个，人口迁移与城</tspan><tspan x="1960" dy="11.6">市化1个)</tspan></text>
<text class="t" x="1960" y="2621.3"><tspan x="1960">⑩国土整治与区域可持续发展专题(2个教学案</tspan><tspan x="1960" dy="12">，水土流失(包括滑坡泥石流)与土地荒漠化(</tspan><tspan x="1960" dy="12">包括沙尘暴)治理1个，区域资源开发与可持续</tspan><tspan x="1960" dy="12">发展(包括五大湖、鲁尔区、山西能源基地、</tspan><tspan x="1960" dy="12">长江流域等)1个)</tspan></text>
<text class="t" x="2173" y="2598.3">⑾产业转移专题(1个教学案)</text>
<text class="t" x="2173" y="2639.3"><tspan x="2173">⑿空间定位专题(结合世界区域地图、中国区</tspan><tspan x="2173" dy="12">域地图，1个教学案)</tspan></text>
<text class="t" x="2173" y="2692.3">⒀等值线专题(自然、人文，1个教学案)</text>
<text class="t" x="1747" y="2734.3">(3)201_年5月3日——28日，综合模拟训练</text>
<text class="t" x="1747" y="2776.3"><tspan x="1747">(4)201_年5月30日——高考前，考前应试心</tspan><tspan x="1747" dy="11.5">理辅导，学生自主回顾、质疑问难</tspan></text>
</g>
<g id="plan4">
<rect class="pill" x="1362" y="3031" width="190" height="28" rx="14"/><text class="pt" x="1457" y="3049">高三下学期地理教学工作计划4</text>
<text class="t" x="1581" y="2827.3"><tspan x="1581">本学期我继续担任高二年级12，13，18，三</tspan><tspan x="1581" dy="12.2">个班的地理教学工作。应该说通过一个学期的</tspan><tspan x="1581" dy="12.2">教学，无论是教学内容还是教学方法的把握都</tspan><tspan x="1581" dy="12.2">有了一定的基础。在具体的教学中主要做如下</tspan><tspan x="1581" dy="12.2">工作。</tspan></text>
<text class="t" x="1581" y="2984.3">一、认真执行教学五认真原则</text>
<text class="t" x="1727" y="2918.3"><tspan x="1727">教材是最重要的课程资源，它直接体现了课程</tspan><tspan x="1727" dy="12.1">标准。因此首先钻研教材，吃透教材，深入挖</tspan><tspan x="1727" dy="12.1">掘和准确把握。在教学活动中充分调动学生的</tspan><tspan x="1727" dy="12.1">知识储备及其它相关资源，以超越文本局限，</tspan><tspan x="1727" dy="12.1">同时在教学活动中积极调动学生活跃课堂气氛</tspan><tspan x="1727" dy="12.1">，突出学生主体性，促进学生全面发展。在教</tspan><tspan x="1727" dy="12.1">学中无论是课前导入，还是单元小结，学科自</tspan><tspan x="1727" dy="12.1">习，月考，都要抓住机会，对教学内容不断补</tspan><tspan x="1727" dy="12.1">充完善。当然3个班可以说学生参差不齐，这</tspan><tspan x="1727" dy="12.1">就需要无论是备课还是实际教学中都要做好充</tspan><tspan x="1727" dy="12.1">分准备，灵活多变，既要驾驭教学内容还要驾</tspan><tspan x="1727" dy="12.1">驭学生。</tspan></text>
<text class="t" x="1581" y="3121.3">二、积极参加备课组教研组活动</text>
<text class="t" x="1737" y="3091.3"><tspan x="1737">在每周五的备课组活动中，积极探讨教学中重</tspan><tspan x="1737" dy="12.2">点、难点的突破，以及教学中遇到的问题。通</tspan><tspan x="1737" dy="12.2">过探讨及时改进。另外利用没课时间互相听课</tspan><tspan x="1737" dy="12.2">，积极评课，取长补短，发现问题及时解决，</tspan><tspan x="1737" dy="12.2">力求尽善尽美。这是本学期的一项重要工作。</tspan><tspan x="1737" dy="12.2">争取在教学中有一个较大的突破。</tspan></text>
<text class="t" x="1581" y="3247.3">三、充实自我完善自我</text>
<text class="t" x="1698" y="3192.3"><tspan x="1698">在课余时间，广泛阅读相关书籍，多做多看习</tspan><tspan x="1698" dy="12.2">题，充实自己提升自己，在教学中，尽量尝试</tspan><tspan x="1698" dy="12.2">采用新的教学方法，教学手段。总之通过自己</tspan><tspan x="1698" dy="12.2">的努力争取在教学中做一个永不落伍的教师。</tspan></text>
<text class="t" x="1698" y="3270.3"><tspan x="1698">在今后的教学中，要继续认认真真踏踏实实从</tspan><tspan x="1698" dy="12.2">严致教。通过加强自身的修养，竭尽全力投身</tspan><tspan x="1698" dy="12.2">到教学事业中，无愧于自己也无愧于学生。</tspan></text>
</g>
<g id="related">
<rect class="pill" x="1372" y="3486" width="225" height="48" rx="22"/><text class="pt" x="1484" y="3506"><tspan x="1484">高三下学期地理教学工作计划相关</tspan><tspan x="1484" dy="16">文章:</tspan></text>
<text class="t" x="1618" y="3335.3">★ 2021高三地理考前教学计划5篇</text>
<text class="t" x="1618" y="3377.3">★ 2021高考地理教学计划和方案5篇</text>
<text class="t" x="1618" y="3418.3">★ 关于高三地理教研组教学工作总结</text>
<text class="t" x="1618" y="3459.3">★ 关于高中地理学科教学计划2021</text>
<text class="t" x="1618" y="3501.3">★ 地理教学学期个人工作计划范文</text>
<text class="t" x="1618" y="3542.3">★ 高中地理课程教学计划2021</text>
<text class="t" x="1618" y="3584.3">★ 关于2021高二下学期地理教学计划</text>
<text class="t" x="1618" y="3625.3">★ 关于高三地理教学总结及感悟</text>
<text class="t" x="1618" y="3666.3">★ 高三地理老师教学工作反思总结5篇</text>
<text class="t" x="1618" y="3707.3">★ 高三地理老师教学总结及反思2021</text>
</g>
<g id="watermarks">
<text class="wm" x="655" y="555" transform="rotate(-31 655 515)"><tspan font-family="Noto Sans CJK SC">树图</tspan><tspan font-family="Liberation Serif"> shutu.cn</tspan></text>
<text class="wm" x="655" y="1530" transform="rotate(-31 655 1490)"><tspan font-family="Noto Sans CJK SC">树图</tspan><tspan font-family="Liberation Serif"> shutu.cn</tspan></text>
<text class="wm" x="655" y="2555" transform="rotate(-31 655 2515)"><tspan font-family="Noto Sans CJK SC">树图</tspan><tspan font-family="Liberation Serif"> shutu.cn</tspan></text>
<text class="wm" x="655" y="3595" transform="rotate(-31 655 3555)"><tspan font-family="Noto Sans CJK SC">树图</tspan><tspan font-family="Liberation Serif"> shutu.cn</tspan></text>
<text class="wm" x="1925" y="565" transform="rotate(-31 1925 525)"><tspan font-family="Noto Sans CJK SC">树图</tspan><tspan font-family="Liberation Serif"> shutu.cn</tspan></text>
<text class="wm" x="1925" y="1555" transform="rotate(-31 1925 1515)"><tspan font-family="Noto Sans CJK SC">树图</tspan><tspan font-family="Liberation Serif"> shutu.cn</tspan></text>
<text class="wm" x="1925" y="2560" transform="rotate(-31 1925 2520)"><tspan font-family="Noto Sans CJK SC">树图</tspan><tspan font-family="Liberation Serif"> shutu.cn</tspan></text>
<text class="wm" x="1925" y="3575" transform="rotate(-31 1925 3535)"><tspan font-family="Noto Sans CJK SC">树图</tspan><tspan font-family="Liberation Serif"> shutu.cn</tspan></text>
</g>
</svg>
